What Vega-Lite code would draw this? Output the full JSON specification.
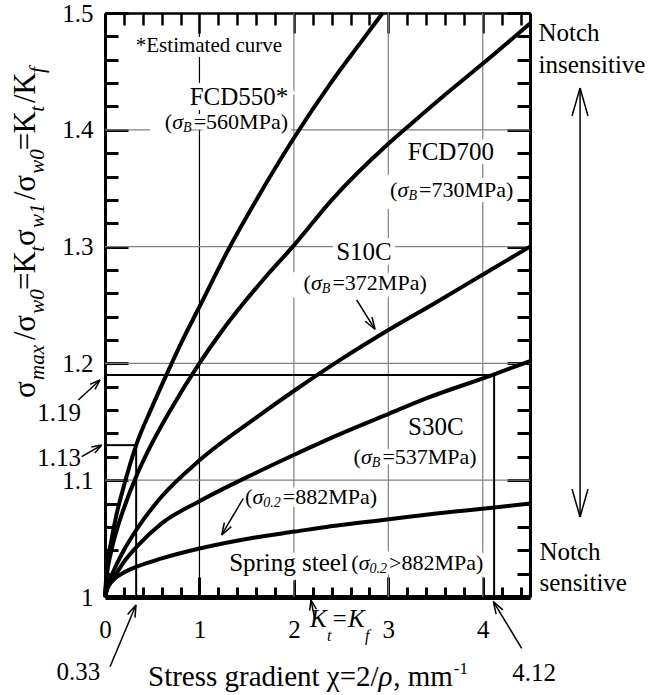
{
  "$schema": "https://vega.github.io/schema/vega-lite/v6.json",
  "width": 425,
  "height": 584,
  "autosize": {"type": "none"},
  "padding": {"left": 105, "top": 13, "right": 135, "bottom": 98},
  "background": "white",
  "config": {
    "view": {"stroke": null},
    "font": "Liberation Serif",
    "text": {"font": "Liberation Serif", "color": "black"},
    "axis": {"labelFont": "Liberation Serif", "labelColor": "black", "domainColor": "black", "tickColor": "black", "grid": false, "title": null, "zindex": 2, "labelOverlap": false, "labelFlush": false, "labelBound": false}
  },
  "datasets": {
    "curves": [
      {"m": "FCD550", "x": 0, "y": 1}, {"m": "FCD550", "x": 0.02, "y": 1.025}, {"m": "FCD550", "x": 0.06, "y": 1.045}, {"m": "FCD550", "x": 0.12, "y": 1.07}, {"m": "FCD550", "x": 0.2, "y": 1.095}, {"m": "FCD550", "x": 0.33, "y": 1.13}, {"m": "FCD550", "x": 0.5, "y": 1.163}, {"m": "FCD550", "x": 0.655, "y": 1.191}, {"m": "FCD550", "x": 0.81, "y": 1.218}, {"m": "FCD550", "x": 1.0, "y": 1.2485}, {"m": "FCD550", "x": 1.31, "y": 1.298}, {"m": "FCD550", "x": 1.61, "y": 1.341}, {"m": "FCD550", "x": 2.0, "y": 1.393}, {"m": "FCD550", "x": 2.39, "y": 1.44}, {"m": "FCD550", "x": 2.7, "y": 1.474}, {"m": "FCD550", "x": 2.94, "y": 1.5},
      {"m": "FCD700", "x": 0, "y": 1}, {"m": "FCD700", "x": 0.02, "y": 1.019}, {"m": "FCD700", "x": 0.06, "y": 1.037}, {"m": "FCD700", "x": 0.12, "y": 1.056}, {"m": "FCD700", "x": 0.2, "y": 1.076}, {"m": "FCD700", "x": 0.34, "y": 1.105}, {"m": "FCD700", "x": 0.45, "y": 1.124}, {"m": "FCD700", "x": 0.7, "y": 1.161}, {"m": "FCD700", "x": 0.99, "y": 1.199}, {"m": "FCD700", "x": 1.24, "y": 1.228}, {"m": "FCD700", "x": 1.7, "y": 1.274}, {"m": "FCD700", "x": 2.0, "y": 1.301}, {"m": "FCD700", "x": 2.39, "y": 1.339}, {"m": "FCD700", "x": 3.0, "y": 1.388}, {"m": "FCD700", "x": 3.24, "y": 1.405}, {"m": "FCD700", "x": 3.6, "y": 1.43}, {"m": "FCD700", "x": 4.02, "y": 1.458}, {"m": "FCD700", "x": 4.5, "y": 1.491},
      {"m": "S10C", "x": 0, "y": 1}, {"m": "S10C", "x": 0.03, "y": 1.01}, {"m": "S10C", "x": 0.106, "y": 1.025}, {"m": "S10C", "x": 0.2, "y": 1.04}, {"m": "S10C", "x": 0.336, "y": 1.058}, {"m": "S10C", "x": 0.6, "y": 1.086}, {"m": "S10C", "x": 1.0, "y": 1.117}, {"m": "S10C", "x": 1.59, "y": 1.153}, {"m": "S10C", "x": 2.01, "y": 1.177}, {"m": "S10C", "x": 2.49, "y": 1.203}, {"m": "S10C", "x": 3.01, "y": 1.229}, {"m": "S10C", "x": 3.5, "y": 1.252}, {"m": "S10C", "x": 4.02, "y": 1.277}, {"m": "S10C", "x": 4.5, "y": 1.3},
      {"m": "S30C", "x": 0, "y": 1}, {"m": "S30C", "x": 0.03, "y": 1.008}, {"m": "S30C", "x": 0.106, "y": 1.018}, {"m": "S30C", "x": 0.2, "y": 1.03}, {"m": "S30C", "x": 0.336, "y": 1.043}, {"m": "S30C", "x": 0.6, "y": 1.063}, {"m": "S30C", "x": 1.0, "y": 1.082}, {"m": "S30C", "x": 1.59, "y": 1.106}, {"m": "S30C", "x": 2.01, "y": 1.122}, {"m": "S30C", "x": 2.39, "y": 1.136}, {"m": "S30C", "x": 3.01, "y": 1.157}, {"m": "S30C", "x": 3.4, "y": 1.17}, {"m": "S30C", "x": 4.1, "y": 1.19}, {"m": "S30C", "x": 4.5, "y": 1.202},
      {"m": "Spring", "x": 0, "y": 1}, {"m": "Spring", "x": 0.02, "y": 1.007}, {"m": "Spring", "x": 0.05, "y": 1.011}, {"m": "Spring", "x": 0.106, "y": 1.016}, {"m": "Spring", "x": 0.2, "y": 1.021}, {"m": "Spring", "x": 0.336, "y": 1.026}, {"m": "Spring", "x": 0.6, "y": 1.033}, {"m": "Spring", "x": 1.0, "y": 1.0415}, {"m": "Spring", "x": 1.59, "y": 1.051}, {"m": "Spring", "x": 2.01, "y": 1.056}, {"m": "Spring", "x": 2.39, "y": 1.0605}, {"m": "Spring", "x": 3.01, "y": 1.0665}, {"m": "Spring", "x": 3.4, "y": 1.0705}, {"m": "Spring", "x": 4.1, "y": 1.0765}, {"m": "Spring", "x": 4.5, "y": 1.08}
    ],
    "gridx": [{"x": 1}, {"x": 2}, {"x": 3}, {"x": 4}],
    "gridy": [{"y": 1.1}, {"y": 1.2}, {"y": 1.3}, {"y": 1.4}],
    "refs": [
      {"x": 0, "y": 1.19, "x2": 4.12, "y2": 1.19},
      {"x": 4.12, "y": 1.0, "x2": 4.12, "y2": 1.19},
      {"x": 0, "y": 1.13, "x2": 0.33, "y2": 1.13},
      {"x": 0.33, "y": 1.0, "x2": 0.33, "y2": 1.13}
    ],
    "arrows": [
      {"x": 2.665, "y": 1.2543, "x2": 2.859, "y2": 1.2292}, {"x": 2.859, "y": 1.2292, "x2": 2.755, "y2": 1.2361}, {"x": 2.859, "y": 1.2292, "x2": 2.827, "y2": 1.2397},
      {"x": 1.4644, "y": 1.0845, "x2": 1.2357, "y2": 1.0531}, {"x": 1.2357, "y": 1.0531, "x2": 1.2638, "y2": 1.0636}, {"x": 1.2357, "y": 1.0531, "x2": 1.3368, "y2": 1.0602},
      {"x": 0.0529, "y": 0.9403, "x2": 0.3283, "y2": 0.9932}, {"x": 0.3283, "y": 0.9932, "x2": 0.3177, "y2": 0.9823}, {"x": 0.3283, "y": 0.9932, "x2": 0.2393, "y2": 0.985},
      {"x": 4.412, "y": 0.9561, "x2": 4.112, "y2": 0.996}, {"x": 4.112, "y": 0.996, "x2": 4.213, "y2": 0.989}, {"x": 4.112, "y": 0.996, "x2": 4.141, "y2": 0.9854},
      {"x": -0.2827, "y": 1.1687, "x2": -0.0529, "y2": 1.1858}, {"x": -0.0529, "y": 1.1858, "x2": -0.1059, "y2": 1.1777}, {"x": -0.0529, "y": 1.1858, "x2": -0.1567, "y2": 1.1822},
      {"x": -0.2467, "y": 1.1201, "x2": -0.0349, "y2": 1.1301}, {"x": -0.0349, "y": 1.1301, "x2": -0.1069, "y2": 1.1233}, {"x": -0.0349, "y": 1.1301, "x2": -0.145, "y2": 1.1284},
      {"x": 2.2236, "y": 0.9803, "x2": 2.1813, "y2": 0.9974}, {"x": 2.1813, "y": 0.9974, "x2": 2.2385, "y2": 0.9896}, {"x": 2.1813, "y": 0.9974, "x2": 2.1665, "y2": 0.9884},
      {"x": 5.03, "y": 1.4358, "x2": 5.03, "y2": 1.0685}, {"x": 5.03, "y": 1.4358, "x2": 4.945, "y2": 1.4118}, {"x": 5.03, "y": 1.4358, "x2": 5.114, "y2": 1.4118}, {"x": 5.03, "y": 1.0685, "x2": 4.945, "y2": 1.0925}, {"x": 5.03, "y": 1.0685, "x2": 5.114, "y2": 1.0925}
    ],
    "mainlabels": [
      {"t": "FCD550*", "x": 1.419, "y": 1.4281},
      {"t": "FCD700", "x": 3.662, "y": 1.3806},
      {"t": "S10C", "x": 2.742, "y": 1.2956},
      {"t": "S30C", "x": 3.503, "y": 1.1458},
      {"t": "Spring steel", "x": 1.943, "y": 1.0289}
    ],
    "smalllabels": [{"t": "*Estimated curve", "x": 1.101, "y": 1.4717}],
    "notch": [
      {"t": "Notch", "x": 4.59, "y": 1.4829},
      {"t": "insensitive", "x": 4.59, "y": 1.4555},
      {"t": "Notch", "x": 4.6, "y": 1.0388},
      {"t": "sensitive", "x": 4.6, "y": 1.012}
    ],
    "numbers": [
      {"t": "0.33", "x": -0.281, "y": 0.936},
      {"t": "4.12", "x": 4.543, "y": 0.9347},
      {"t": "1.19", "x": -0.487, "y": 1.1575},
      {"t": "1.13", "x": -0.487, "y": 1.119}
    ],
    "paren": [
      {"xs": 0.827, "xr": 0.939, "y": 1.4067, "pre": "(", "sig": "σ", "sub": "B", "rest": "=560MPa)"},
      {"xs": 3.213, "xr": 3.325, "y": 1.3485, "pre": "(", "sig": "σ", "sub": "B", "rest": "=730MPa)"},
      {"xs": 2.296, "xr": 2.408, "y": 1.2686, "pre": "(", "sig": "σ", "sub": "B", "rest": "=372MPa)"},
      {"xs": 2.825, "xr": 2.937, "y": 1.1201, "pre": "(", "sig": "σ", "sub": "B", "rest": "=537MPa)"},
      {"xs": 1.6755, "xr": 1.882, "y": 1.0859, "pre": "(", "sig": "σ", "sub": "0.2", "rest": "=882MPa)"},
      {"xs": 2.8005, "xr": 3.007, "y": 1.0289, "pre": "(", "sig": "σ", "sub": "0.2", "rest": ">882MPa)"}
    ],
    "ytitle": [
      {"t": "σ", "k": "main", "x": -0.741, "y": 1.1704},
      {"t": "max", "k": "sub", "x": -0.646, "y": 1.1858},
      {"t": "/", "k": "main", "x": -0.741, "y": 1.22},
      {"t": "σ", "k": "main", "x": -0.741, "y": 1.2271},
      {"t": "w0", "k": "sub", "x": -0.646, "y": 1.2425},
      {"t": "=", "k": "main", "x": -0.741, "y": 1.2628},
      {"t": "K", "k": "main", "x": -0.741, "y": 1.277},
      {"t": "t", "k": "sub", "x": -0.646, "y": 1.2955},
      {"t": "σ", "k": "main", "x": -0.741, "y": 1.3005},
      {"t": "w1", "k": "sub", "x": -0.646, "y": 1.3159},
      {"t": "/", "k": "main", "x": -0.741, "y": 1.3399},
      {"t": "σ", "k": "main", "x": -0.741, "y": 1.347},
      {"t": "w0", "k": "sub", "x": -0.646, "y": 1.3624},
      {"t": "=", "k": "main", "x": -0.741, "y": 1.3824},
      {"t": "K", "k": "main", "x": -0.741, "y": 1.3968},
      {"t": "t", "k": "sub", "x": -0.646, "y": 1.4154},
      {"t": "/", "k": "main", "x": -0.741, "y": 1.4229},
      {"t": "K", "k": "main", "x": -0.741, "y": 1.4301},
      {"t": "f", "k": "sub", "x": -0.646, "y": 1.4486}
    ],
    "xtitle": [
      {"t": "Stress gradient χ=2/", "k": "right", "x": 2.897, "y": 0.9238},
      {"t": "ρ", "k": "rho", "x": 2.897, "y": 0.9238},
      {"t": ", mm", "k": "right", "x": 3.683, "y": 0.9238},
      {"t": "-1", "k": "sup", "x": 3.693, "y": 0.9341}
    ],
    "ktkf": [
      {"t": "K", "k": "main", "x": 2.171, "y": 0.9743},
      {"t": "t", "k": "sub", "x": 2.351, "y": 0.9623},
      {"t": "=", "k": "main", "x": 2.393, "y": 0.9743},
      {"t": "K", "k": "main", "x": 2.573, "y": 0.9743},
      {"t": "f", "k": "sub", "x": 2.753, "y": 0.9623}
    ]
  },
  "layer": [
    {
      "data": {"name": "gridx"},
      "mark": {"type": "rule", "strokeWidth": 1.2},
      "encoding": {
        "x": {"field": "x", "type": "quantitative", "scale": {"domain": [0, 4.5], "nice": false, "zero": false}, "axis": null},
        "color": {"condition": {"test": "datum.x === 1", "value": "black"}, "value": "#808080"}
      }
    },
    {
      "data": {"name": "gridy"},
      "mark": {"type": "rule", "strokeWidth": 1.2, "color": "#808080"},
      "encoding": {
        "y": {"field": "y", "type": "quantitative", "scale": {"domain": [1, 1.5], "nice": false, "zero": false}, "axis": null}
      }
    },
    {
      "data": {"name": "mainlabels"},
      "mark": {"type": "text", "font": "Liberation Serif", "fontSize": 25, "align": "center", "baseline": "middle", "color": "white", "stroke": "white", "strokeWidth": 10},
      "encoding": {
        "x": {"field": "x", "type": "quantitative", "scale": {"domain": [0, 4.5], "nice": false, "zero": false}, "axis": null},
        "y": {"field": "y", "type": "quantitative", "scale": {"domain": [1, 1.5], "nice": false, "zero": false}, "axis": null},
        "text": {"field": "t"}
      }
    },
    {
      "data": {"name": "smalllabels"},
      "mark": {"type": "text", "font": "Liberation Serif", "fontSize": 21, "align": "center", "baseline": "middle", "color": "white", "stroke": "white", "strokeWidth": 10},
      "encoding": {
        "x": {"field": "x", "type": "quantitative", "scale": {"domain": [0, 4.5], "nice": false, "zero": false}, "axis": null},
        "y": {"field": "y", "type": "quantitative", "scale": {"domain": [1, 1.5], "nice": false, "zero": false}, "axis": null},
        "text": {"field": "t"}
      }
    },
    {
      "data": {"name": "paren"},
      "mark": {"type": "text", "font": "Liberation Serif", "fontSize": 22, "align": "left", "baseline": "middle", "color": "white", "stroke": "white", "strokeWidth": 10},
      "encoding": {
        "x": {"field": "xr", "type": "quantitative", "scale": {"domain": [0, 4.5], "nice": false, "zero": false}, "axis": null},
        "y": {"field": "y", "type": "quantitative", "scale": {"domain": [1, 1.5], "nice": false, "zero": false}, "axis": null},
        "text": {"field": "rest"}
      }
    },
    {
      "data": {"name": "paren"},
      "mark": {"type": "text", "font": "Liberation Serif", "fontSize": 22, "align": "right", "baseline": "middle", "dx": 4, "color": "white", "stroke": "white", "strokeWidth": 10},
      "encoding": {
        "x": {"field": "xs", "type": "quantitative", "scale": {"domain": [0, 4.5], "nice": false, "zero": false}, "axis": null},
        "y": {"field": "y", "type": "quantitative", "scale": {"domain": [1, 1.5], "nice": false, "zero": false}, "axis": null},
        "text": {"value": "(σB"}
      }
    },
    {
      "data": {"name": "refs"},
      "mark": {"type": "rule", "strokeWidth": 2, "color": "black"},
      "encoding": {
        "x": {"field": "x", "type": "quantitative", "scale": {"domain": [0, 4.5], "nice": false, "zero": false},
          "axis": {"orient": "top", "values": [0, 0.2, 0.4, 0.6, 0.8, 1, 1.2, 1.4, 1.6, 1.8, 2, 2.2, 2.4, 2.6, 2.8, 3, 3.2, 3.4, 3.6, 3.8, 4, 4.2, 4.4], "labels": false, "domainWidth": 2.5, "tickWidth": 2.5,
            "tickSize": {"condition": {"test": "abs(datum.value - round(datum.value)) < 0.001", "value": -20}, "value": -12}}},
        "y": {"field": "y", "type": "quantitative", "scale": {"domain": [1, 1.5], "nice": false, "zero": false},
          "axis": {"orient": "right", "values": [1, 1.02, 1.04, 1.06, 1.08, 1.1, 1.12, 1.14, 1.16, 1.18, 1.2, 1.22, 1.24, 1.26, 1.28, 1.3, 1.32, 1.34, 1.36, 1.38, 1.4, 1.42, 1.44, 1.46, 1.48, 1.5], "labels": false, "domainWidth": 3, "tickWidth": 3,
            "tickSize": {"condition": {"test": "abs(datum.value * 10 - round(datum.value * 10)) < 0.001", "value": -23}, "value": -13}}},
        "x2": {"field": "x2"},
        "y2": {"field": "y2"}
      }
    },
    {
      "data": {"name": "arrows"},
      "mark": {"type": "rule", "strokeWidth": 1.5, "color": "black"},
      "encoding": {
        "x": {"field": "x", "type": "quantitative", "scale": {"domain": [0, 4.5], "nice": false, "zero": false}, "axis": null},
        "y": {"field": "y", "type": "quantitative", "scale": {"domain": [1, 1.5], "nice": false, "zero": false}, "axis": null},
        "x2": {"field": "x2"},
        "y2": {"field": "y2"}
      }
    },
    {
      "data": {"name": "curves"},
      "mark": {"type": "line", "strokeWidth": 4, "color": "black", "interpolate": "monotone"},
      "encoding": {
        "x": {"field": "x", "type": "quantitative", "scale": {"domain": [0, 4.5], "nice": false, "zero": false},
          "axis": {"orient": "bottom", "values": [0, 0.2, 0.4, 0.6, 0.8, 1, 1.2, 1.4, 1.6, 1.8, 2, 2.2, 2.4, 2.6, 2.8, 3, 3.2, 3.4, 3.6, 3.8, 4, 4.2, 4.4], "domainWidth": 5, "tickWidth": 3,
            "tickSize": {"condition": {"test": "abs(datum.value - round(datum.value)) < 0.001", "value": -20}, "value": -10},
            "labelPadding": 40, "labelFontSize": 25, "labelFont": "Liberation Serif", "labelBaseline": "top", "labelAlign": "center",
            "labelExpr": "abs(datum.value - round(datum.value)) < 0.001 ? format(datum.value, 'd') : ''"}},
        "y": {"field": "y", "type": "quantitative", "scale": {"domain": [1, 1.5], "nice": false, "zero": false},
          "axis": {"orient": "left", "values": [1, 1.02, 1.04, 1.06, 1.08, 1.1, 1.12, 1.14, 1.16, 1.18, 1.2, 1.22, 1.24, 1.26, 1.28, 1.3, 1.32, 1.34, 1.36, 1.38, 1.4, 1.42, 1.44, 1.46, 1.48, 1.5], "domainWidth": 3, "tickWidth": 3,
            "tickSize": {"condition": {"test": "abs(datum.value * 10 - round(datum.value * 10)) < 0.001", "value": -23}, "value": -13},
            "labelPadding": 35, "labelFontSize": 25, "labelFont": "Liberation Serif", "labelAlign": "right", "labelBaseline": "middle",
            "labelExpr": "abs(datum.value * 10 - round(datum.value * 10)) < 0.001 ? format(datum.value, '~g') : ''"}},
        "detail": {"field": "m"}
      }
    },
    {
      "data": {"name": "mainlabels"},
      "mark": {"type": "text", "font": "Liberation Serif", "fontSize": 25, "align": "center", "baseline": "middle"},
      "encoding": {
        "x": {"field": "x", "type": "quantitative", "scale": {"domain": [0, 4.5], "nice": false, "zero": false}, "axis": null},
        "y": {"field": "y", "type": "quantitative", "scale": {"domain": [1, 1.5], "nice": false, "zero": false}, "axis": null},
        "text": {"field": "t"}
      }
    },
    {
      "data": {"name": "smalllabels"},
      "mark": {"type": "text", "font": "Liberation Serif", "fontSize": 21, "align": "center", "baseline": "middle"},
      "encoding": {
        "x": {"field": "x", "type": "quantitative", "scale": {"domain": [0, 4.5], "nice": false, "zero": false}, "axis": null},
        "y": {"field": "y", "type": "quantitative", "scale": {"domain": [1, 1.5], "nice": false, "zero": false}, "axis": null},
        "text": {"field": "t"}
      }
    },
    {
      "data": {"name": "notch"},
      "mark": {"type": "text", "font": "Liberation Serif", "fontSize": 25, "align": "left", "baseline": "middle"},
      "encoding": {
        "x": {"field": "x", "type": "quantitative", "scale": {"domain": [0, 4.5], "nice": false, "zero": false}, "axis": null},
        "y": {"field": "y", "type": "quantitative", "scale": {"domain": [1, 1.5], "nice": false, "zero": false}, "axis": null},
        "text": {"field": "t"}
      }
    },
    {
      "data": {"name": "numbers"},
      "mark": {"type": "text", "font": "Liberation Serif", "fontSize": 25, "align": "center", "baseline": "middle"},
      "encoding": {
        "x": {"field": "x", "type": "quantitative", "scale": {"domain": [0, 4.5], "nice": false, "zero": false}, "axis": null},
        "y": {"field": "y", "type": "quantitative", "scale": {"domain": [1, 1.5], "nice": false, "zero": false}, "axis": null},
        "text": {"field": "t"}
      }
    },
    {
      "data": {"name": "paren"},
      "mark": {"type": "text", "font": "Liberation Serif", "fontSize": 22, "align": "right", "baseline": "middle", "dx": -11},
      "encoding": {
        "x": {"field": "xs", "type": "quantitative", "scale": {"domain": [0, 4.5], "nice": false, "zero": false}, "axis": null},
        "y": {"field": "y", "type": "quantitative", "scale": {"domain": [1, 1.5], "nice": false, "zero": false}, "axis": null},
        "text": {"field": "pre"}
      }
    },
    {
      "data": {"name": "paren"},
      "mark": {"type": "text", "font": "Liberation Serif", "fontSize": 22, "align": "right", "baseline": "middle", "fontStyle": "italic"},
      "encoding": {
        "x": {"field": "xs", "type": "quantitative", "scale": {"domain": [0, 4.5], "nice": false, "zero": false}, "axis": null},
        "y": {"field": "y", "type": "quantitative", "scale": {"domain": [1, 1.5], "nice": false, "zero": false}, "axis": null},
        "text": {"field": "sig"}
      }
    },
    {
      "data": {"name": "paren"},
      "mark": {"type": "text", "font": "Liberation Serif", "fontSize": 14, "align": "left", "baseline": "middle", "fontStyle": "italic", "dx": 0, "dy": 6},
      "encoding": {
        "x": {"field": "xs", "type": "quantitative", "scale": {"domain": [0, 4.5], "nice": false, "zero": false}, "axis": null},
        "y": {"field": "y", "type": "quantitative", "scale": {"domain": [1, 1.5], "nice": false, "zero": false}, "axis": null},
        "text": {"field": "sub"}
      }
    },
    {
      "data": {"name": "paren"},
      "mark": {"type": "text", "font": "Liberation Serif", "fontSize": 22, "align": "left", "baseline": "middle"},
      "encoding": {
        "x": {"field": "xr", "type": "quantitative", "scale": {"domain": [0, 4.5], "nice": false, "zero": false}, "axis": null},
        "y": {"field": "y", "type": "quantitative", "scale": {"domain": [1, 1.5], "nice": false, "zero": false}, "axis": null},
        "text": {"field": "rest"}
      }
    },
    {
      "data": {"name": "ytitle"},
      "transform": [{"filter": "datum.k === 'main'"}],
      "mark": {"type": "text", "font": "Liberation Serif", "fontSize": 31, "align": "left", "baseline": "alphabetic", "angle": 270},
      "encoding": {
        "x": {"field": "x", "type": "quantitative", "scale": {"domain": [0, 4.5], "nice": false, "zero": false}, "axis": null},
        "y": {"field": "y", "type": "quantitative", "scale": {"domain": [1, 1.5], "nice": false, "zero": false}, "axis": null},
        "text": {"field": "t"}
      }
    },
    {
      "data": {"name": "ytitle"},
      "transform": [{"filter": "datum.k === 'sub'"}],
      "mark": {"type": "text", "font": "Liberation Serif", "fontSize": 21, "align": "left", "baseline": "alphabetic", "angle": 270, "fontStyle": "italic"},
      "encoding": {
        "x": {"field": "x", "type": "quantitative", "scale": {"domain": [0, 4.5], "nice": false, "zero": false}, "axis": null},
        "y": {"field": "y", "type": "quantitative", "scale": {"domain": [1, 1.5], "nice": false, "zero": false}, "axis": null},
        "text": {"field": "t"}
      }
    },
    {
      "data": {"name": "xtitle"},
      "transform": [{"filter": "datum.k === 'right'"}],
      "mark": {"type": "text", "font": "Liberation Serif", "fontSize": 29, "align": "right", "baseline": "alphabetic"},
      "encoding": {
        "x": {"field": "x", "type": "quantitative", "scale": {"domain": [0, 4.5], "nice": false, "zero": false}, "axis": null},
        "y": {"field": "y", "type": "quantitative", "scale": {"domain": [1, 1.5], "nice": false, "zero": false}, "axis": null},
        "text": {"field": "t"}
      }
    },
    {
      "data": {"name": "xtitle"},
      "transform": [{"filter": "datum.k === 'rho'"}],
      "mark": {"type": "text", "font": "Liberation Serif", "fontSize": 29, "align": "left", "baseline": "alphabetic", "fontStyle": "italic"},
      "encoding": {
        "x": {"field": "x", "type": "quantitative", "scale": {"domain": [0, 4.5], "nice": false, "zero": false}, "axis": null},
        "y": {"field": "y", "type": "quantitative", "scale": {"domain": [1, 1.5], "nice": false, "zero": false}, "axis": null},
        "text": {"field": "t"}
      }
    },
    {
      "data": {"name": "xtitle"},
      "transform": [{"filter": "datum.k === 'sup'"}],
      "mark": {"type": "text", "font": "Liberation Serif", "fontSize": 17, "align": "left", "baseline": "alphabetic"},
      "encoding": {
        "x": {"field": "x", "type": "quantitative", "scale": {"domain": [0, 4.5], "nice": false, "zero": false}, "axis": null},
        "y": {"field": "y", "type": "quantitative", "scale": {"domain": [1, 1.5], "nice": false, "zero": false}, "axis": null},
        "text": {"field": "t"}
      }
    },
    {
      "data": {"name": "ktkf"},
      "transform": [{"filter": "datum.k === 'main'"}],
      "mark": {"type": "text", "font": "Liberation Serif", "fontSize": 25, "align": "left", "baseline": "alphabetic", "fontStyle": "italic"},
      "encoding": {
        "x": {"field": "x", "type": "quantitative", "scale": {"domain": [0, 4.5], "nice": false, "zero": false}, "axis": null},
        "y": {"field": "y", "type": "quantitative", "scale": {"domain": [1, 1.5], "nice": false, "zero": false}, "axis": null},
        "text": {"field": "t"}
      }
    },
    {
      "data": {"name": "ktkf"},
      "transform": [{"filter": "datum.k === 'sub'"}],
      "mark": {"type": "text", "font": "Liberation Serif", "fontSize": 16, "align": "left", "baseline": "alphabetic", "fontStyle": "italic"},
      "encoding": {
        "x": {"field": "x", "type": "quantitative", "scale": {"domain": [0, 4.5], "nice": false, "zero": false}, "axis": null},
        "y": {"field": "y", "type": "quantitative", "scale": {"domain": [1, 1.5], "nice": false, "zero": false}, "axis": null},
        "text": {"field": "t"}
      }
    }
  ],
  "resolve": {"axis": {"x": "independent", "y": "independent"}}
}
